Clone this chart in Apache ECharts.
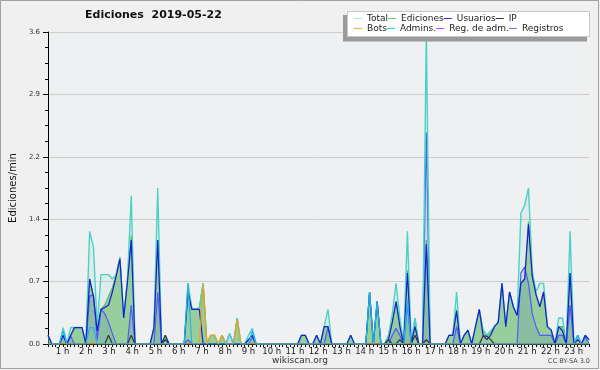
<!DOCTYPE html>
<html><head><meta charset="utf-8">
<script src="https://cdn.jsdelivr.net/npm/echarts@6/dist/echarts.min.js"></script>
<style>html,body{margin:0;padding:0;background:#f0f0f0}#c{width:600px;height:370px}</style>
</head><body><div id="c"></div>
<script>
// 10-minute bins, 144 per day
const hourLabels = ['', '1 h','2 h','3 h','4 h','5 h','6 h','7 h','8 h','9 h','10 h','11 h','12 h','13 h','14 h','15 h','16 h','17 h','18 h','19 h','20 h','21 h','22 h','23 h', ''];
const yTickLabels = ['0.0','0.7','1.4','2.2','2.9','3.6'];
const legendRow1 = ['Total','Ediciones','Usuarios','IP'];
const legendRow2 = ['Bots','Admins.','Reg. de adm.','Registros'];

const total = [
 .1,0,0,0,.19,0,.19,.19,.19,.19,0,1.3,
 1.12,.2,.8,.8,.8,.75,.8,1.0,.3,.75,1.71,0,
 0,0,0,0,.19,1.8,0,.1,0,0,0,0,
 0,.7,.42,.4,.42,.7,0,.1,.1,0,.1,0,
 .12,0,.3,0,0,.1,.18,0,0,0,0,0,
 0,0,0,0,0,0,0,.1,.1,0,0,.1,
 0,.2,.4,0,0,0,0,0,.1,0,0,0,
 0,.6,0,.49,0,0,.1,.35,.7,.3,0,1.3,
 0,.3,0,0,3.6,0,0,0,0,0,.1,.1,
 .6,0,.1,.16,0,.2,.4,.16,.1,.15,.2,.25,
 .7,.2,.6,.43,.33,1.51,1.6,1.8,.85,.6,.7,.7,
 .2,.16,0,.3,.3,0,1.3,0,.1,0,.1,.05
];
const ediciones = [
 .1,0,0,0,.1,0,.1,.19,.19,.19,0,.75,
 .55,.15,.4,.45,.55,.65,.8,1.0,.3,.75,1.25,0,
 0,0,0,0,.19,1.2,0,.1,0,0,0,0,
 0,.65,.4,.4,.42,.7,0,.1,.1,0,.1,0,
 0,0,.3,0,0,.05,.1,0,0,0,0,0,
 0,0,0,0,0,0,0,.1,.1,0,0,.1,
 0,.2,.2,0,0,0,0,0,.1,0,0,0,
 0,.6,0,.49,0,0,.1,.25,.49,.25,0,.85,
 0,.3,0,0,1.2,0,0,0,0,0,.1,.1,
 .4,0,.1,.16,0,.2,.4,.16,.1,.12,.2,.25,
 .7,.2,.6,.43,.33,.7,.75,1.41,.78,.57,.43,.6,
 .2,.16,0,.2,.2,0,.82,0,.1,0,.1,.05
];
const usuarios = [
 .1,0,0,0,.1,0,.1,.19,.19,.19,0,.75,
 .55,.15,.4,.42,.45,.6,.78,.98,.3,.72,1.2,0,
 0,0,0,0,.19,1.2,0,.05,0,0,0,0,
 0,.6,.4,.4,.4,0,0,0,0,0,0,0,
 0,0,0,0,0,.05,.1,0,0,0,0,0,
 0,0,0,0,0,0,0,.1,.1,0,0,.1,
 0,.2,.2,0,0,0,0,0,.1,0,0,0,
 0,.6,0,.49,0,0,.05,.25,.49,.2,0,.82,
 0,.2,0,0,1.15,0,0,0,0,0,.1,.1,
 .38,0,.1,.16,0,.2,.4,.1,.05,.1,.2,.25,
 .7,.2,.6,.43,.33,.7,.75,1.38,.78,.57,.43,.6,
 .2,.16,0,.2,.15,0,.82,0,.05,0,.1,.05
];
const ip = [
 0,0,0,0,0,0,0,0,0,0,0,0,
 0,0,0,0,.1,0,0,0,0,0,.1,0,
 0,0,0,0,0,0,0,.1,0,0,0,0,
 0,0,0,0,0,0,0,0,0,0,0,0,
 0,0,0,0,0,0,0,0,0,0,0,0,
 0,0,0,0,0,0,0,0,0,0,0,0,
 0,0,0,0,0,0,0,0,0,0,0,0,
 0,0,0,0,0,0,.05,0,0,.05,0,0,
 0,.1,0,0,.05,0,0,0,0,0,0,0,
 0,0,0,0,0,0,0,.09,.09,.05,0,0,
 0,0,0,0,0,0,0,0,0,0,0,0,
 0,0,0,0,0,0,0,0,0,0,0,0
];
const bots = [
 0,0,0,0,0,0,0,0,0,0,0,0,
 0,0,0,0,0,0,0,0,0,0,0,0,
 0,0,0,0,0,0,0,0,0,0,0,0,
 0,0,0,0,0,.68,0,.1,.1,0,.1,0,
 0,0,.28,0,0,0,0,0,0,0,0,0,
 0,0,0,0,0,0,0,0,0,0,0,0,
 0,0,0,0,0,0,0,0,0,0,0,0,
 0,0,0,0,0,0,0,0,0,0,0,0,
 0,0,0,0,0,0,0,0,0,0,0,0,
 0,0,0,0,0,0,0,0,0,0,0,0,
 0,0,0,0,0,0,0,0,0,0,0,0,
 0,0,0,0,0,0,0,0,0,0,0,0
];
const admins = [
 0,0,0,0,.15,0,0,0,0,0,0,.19,
 .19,0,0,0,0,0,0,0,0,0,0,0,
 0,0,0,0,0,0,0,0,0,0,0,0,
 0,.7,0,0,0,0,0,0,0,0,0,0,
 0,0,0,0,0,0,.15,0,0,0,0,0,
 0,0,0,0,0,0,0,0,0,0,0,0,
 0,0,0,0,0,0,0,0,0,0,0,0,
 0,.6,0,.49,0,0,0,0,0,0,0,.5,
 0,0,0,0,0,0,0,0,0,0,0,0,
 0,0,0,0,0,0,0,0,0,0,0,0,
 0,0,0,0,0,0,0,0,0,0,0,0,
 0,0,0,0,0,0,0,0,.1,0,0,0
];
const regAdm = [];
const registros = [
 0,0,0,0,.09,0,.09,0,0,0,0,.55,
 .57,.05,.4,.35,.25,.12,0,0,0,0,.45,0,
 0,0,0,0,0,.6,0,0,0,0,0,0,
 0,.05,0,0,0,0,0,0,0,0,0,0,
 .12,0,0,0,0,0,.08,0,0,0,0,0,
 0,0,0,0,0,0,0,0,0,0,0,0,
 0,0,.2,0,0,0,0,0,0,0,0,0,
 0,0,0,0,0,0,0,.1,.18,.1,0,.45,
 0,0,0,0,2.44,0,0,0,0,0,0,0,
 .2,0,0,0,0,0,0,0,0,0,0,0,
 0,0,0,0,0,.82,.89,.7,.35,.2,.1,.1,
 .1,.1,0,.1,.1,0,.45,0,0,0,.08,0
];

const FF = 'DejaVu Sans';
const pts = arr => arr.map((v, i) => [i, v]);
function line(name, data, color, z, area, width) {
  const s = {
    name, type: 'line', data: pts(data), xAxisIndex: 0, yAxisIndex: 0,
    symbol: 'none', color, z, animation: false,
    lineStyle: { color, width: width || 1.2 }
  };
  if (area) s.areaStyle = { color: area, opacity: 1 };
  return s;
}
const colW = { 0: 28, 1: 48, 2: 63, 3: 50 };
function legendCfg(names, colors, top) {
  return {
    data: names.map((n, i) => ({ name: n, itemStyle: { color: colors[i] } })),
    left: 354, top, padding: 0, itemGap: 0, itemWidth: 8, itemHeight: 1,
    icon: 'rect', selectedMode: false, z: 20,
    formatter: n => '{c' + names.indexOf(n) + '|' + n + '}',
    textStyle: {
      fontFamily: FF, fontSize: 9, color: '#222',
      rich: {
        c0: { width: colW[0], fontFamily: FF, fontSize: 9, color: '#222' },
        c1: { width: colW[1], fontFamily: FF, fontSize: 9, color: '#222' },
        c2: { width: colW[2], fontFamily: FF, fontSize: 9, color: '#222' },
        c3: { width: colW[3], fontFamily: FF, fontSize: 9, color: '#222' }
      }
    }
  };
}

const chart = echarts.init(document.getElementById('c'), null, { renderer: 'canvas' });
chart.setOption({
  backgroundColor: '#f0f0f0',
  animation: false,
  title: [
    { text: 'Ediciones  2019-05-22', left: 85, top: 10, padding: 0,
      textStyle: { fontFamily: FF, fontSize: 11, fontWeight: 'bold', color: '#111' } },
    { text: 'wikiscan.org', left: 'center', top: 356, padding: 0,
      textStyle: { fontFamily: FF, fontSize: 9, fontWeight: 'normal', color: '#333' } },
    { text: 'CC BY-SA 3.0', right: 10, top: 358, padding: 0,
      textStyle: { fontFamily: FF, fontSize: 6.5, fontWeight: 'normal', color: '#444' } }
  ],
  legend: [
    legendCfg(legendRow1, ['#a6e8e4', '#66cc66', '#3333ee', '#333333'], 14),
    legendCfg(legendRow2, ['#ffaa33', '#33ccdd', '#cc44ff', '#7777ff'], 24)
  ],
  graphic: [
    { type: 'rect', z: 10, silent: true, shape: { x: 343, y: 15, width: 244, height: 26.5 }, style: { fill: '#9a9a9a' } },
    { type: 'rect', z: 11, silent: true, shape: { x: 347.5, y: 11.5, width: 242, height: 25 }, style: { fill: '#ffffff', stroke: '#c8c8c8', lineWidth: 1 } },
    { type: 'rect', z: 30, silent: true, shape: { x: 0.5, y: 0.5, width: 598, height: 368 }, style: { fill: null, stroke: '#a0a0a0', lineWidth: 1 } }
  ],
  grid: [
    { left: 47, right: 11, top: 32, bottom: 26, show: true, backgroundColor: '#eef0f2', borderWidth: 0 },
    { left: 39.3, width: 558, top: 32, bottom: 26 }
  ],
  xAxis: [
    { gridIndex: 0, type: 'value', min: 0, max: 143, interval: 1,
      axisLine: { lineStyle: { color: '#000', width: 1 } },
      axisTick: { length: 3, lineStyle: { color: '#000' } },
      axisLabel: { show: false }, splitLine: { show: false } },
    { gridIndex: 1, type: 'value', min: 0, max: 24, interval: 1,
      axisLine: { show: false }, axisTick: { show: false }, splitLine: { show: false },
      axisLabel: { formatter: v => hourLabels[Math.round(v)] || '', margin: 3,
        fontFamily: FF, fontSize: 8.5, color: '#222' } }
  ],
  yAxis: [
    { gridIndex: 0, type: 'value', min: 0, max: 3.6, interval: 0.72,
      axisLine: { show: true, lineStyle: { color: '#000' } },
      axisTick: { show: true, length: 5, lineStyle: { color: '#000' } },
      minorTick: { show: true, splitNumber: 4, length: 3, lineStyle: { color: '#000' } },
      splitLine: { show: true, lineStyle: { color: '#cccccc', width: 1 } },
      axisLabel: { formatter: v => yTickLabels[Math.round(v / 0.72)], margin: 8,
        fontFamily: FF, fontSize: 7, color: '#333' },
      name: 'Ediciones/min', nameLocation: 'middle', nameGap: 30,
      nameTextStyle: { fontFamily: FF, fontSize: 10, color: '#111' } },
    { gridIndex: 1, type: 'value', min: 0, max: 1, show: false }
  ],
  series: [
    line('Ediciones', ediciones, '#55bb55', 2, 'rgba(85,178,75,0.55)'),
    line('Registros', registros, '#4a4aff', 3, 'rgba(50,50,230,0.12)'),
    line('Total', total, '#48d4c4', 4, 'rgba(120,215,200,0.12)', 1.4),
    line('Usuarios', usuarios, '#1c1cd0', 5),
    line('IP', ip, '#333333', 5),
    line('Bots', bots, '#f0a020', 5),
    line('Admins.', admins, '#22b4e4', 6),
    line('Reg. de adm.', regAdm, '#cc44ff', 6)
  ]
});
</script>
</body></html>
